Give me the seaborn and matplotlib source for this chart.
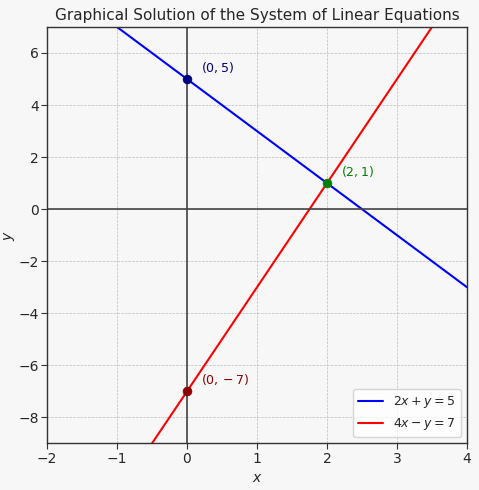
import numpy as np
import pandas as pd
import matplotlib
matplotlib.use('Agg')
import matplotlib.pyplot as plt
import seaborn as sns

# 数据
x_vals = np.linspace(-2, 4, 100)
line_labels = ['$2x + y = 5$', '$4x - y = 7$']
line_colors = ['blue', 'red']
y_blue = 5 - 2 * x_vals
y_red = 4 * x_vals - 7

pt_x = [0, 2, 0]
pt_y = [5, 1, -7]
pt_labels = ['$(0, 5)$', '$(2, 1)$', '$(0, -7)$']
pt_colors = ['navy', 'green', 'darkred']

lines = pd.DataFrame({
    'x': np.concatenate([x_vals, x_vals]),
    'y': np.concatenate([y_blue, y_red]),
    'eq': [line_labels[0]] * len(x_vals) + [line_labels[1]] * len(x_vals),
})

sns.set_style('whitegrid')
plt.rcParams['font.family'] = ['DejaVu Sans']

fig, ax = plt.subplots(figsize=(4.79, 4.9), dpi=100)
fig.patch.set_facecolor('#f7f7f7')
ax.set_facecolor('#f7f7f7')

sns.lineplot(data=lines, x='x', y='y', hue='eq', palette=line_colors, ax=ax, linewidth=1.5)

ax.axhline(0, color='#444444', linewidth=1.2)
ax.axvline(0, color='#444444', linewidth=1.2)

for px, py, lab, c in zip(pt_x, pt_y, pt_labels, pt_colors):
    sns.scatterplot(x=[px], y=[py], color=c, s=40, ax=ax, zorder=5, edgecolor=c)
    ax.annotate(lab, (px, py), xytext=(10, 5), textcoords='offset points', color=c, fontsize=9)

ax.set_xlim(-2, 4)
ax.set_ylim(-9, 7)
ax.set_xlabel('$x$')
ax.set_ylabel('$y$', labelpad=1)
ax.set_title('Graphical Solution of the System of Linear Equations', fontsize=11, pad=5)
ax.grid(True, linestyle='--', linewidth=0.5, color='#bbbbbb')
for s in ax.spines.values():
    s.set_color('#333333')
    s.set_linewidth(1.0)
ax.tick_params(axis='both', which='both', length=4, pad=2, color='#333333', labelsize=10, left=True, bottom=True)
ax.legend(loc='lower right', fontsize=9, framealpha=0.8)

plt.subplots_adjust(left=0.098, right=0.975, top=0.945, bottom=0.095)
plt.savefig('out.png', dpi=100, facecolor=fig.get_facecolor())
